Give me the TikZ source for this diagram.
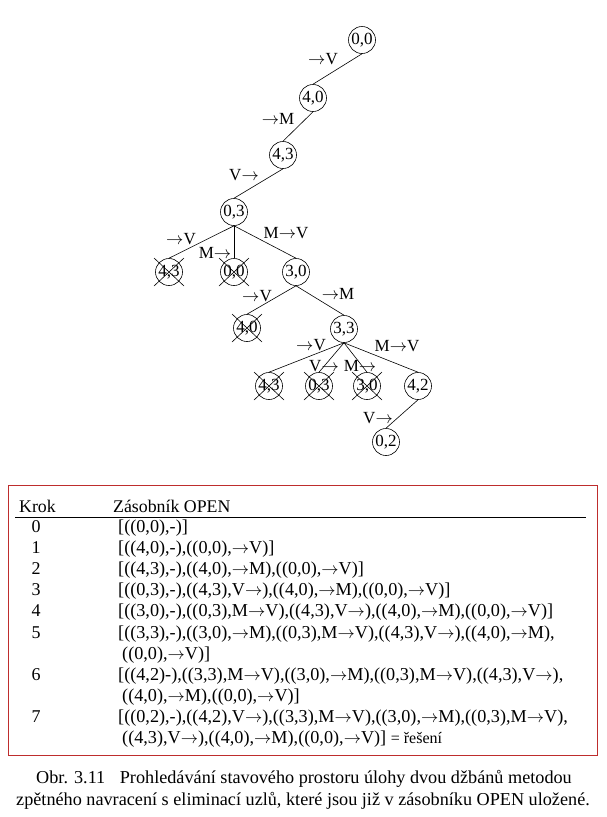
\documentclass[tikz,border=0pt]{standalone}
\usepackage{fontspec}
\setmainfont{Liberation Serif}
\definecolor{boxred}{RGB}{190,45,45}
\newcommand{\myarr}{$\rightarrow$}
\begin{document}
\begin{tikzpicture}[x=1pt,y=-1pt,
  st/.style={circle,draw,line width=0.6pt,minimum size=27pt,inner sep=0pt,font=\fontsize{17}{19}\selectfont},
  lab/.style={inner sep=0pt,font=\fontsize{17}{19}\selectfont},
  conn/.style={line width=0.6pt},
  crossln/.style={line width=0.6pt},
  hdr/.style={inner sep=0pt,anchor=base west,font=\fontsize{17.8}{20}\selectfont},
  txt/.style={inner sep=0pt,anchor=base west,font=\fontsize{18.2}{20}\selectfont},
  num/.style={inner sep=0pt,anchor=base,font=\fontsize{18}{20}\selectfont},
  captxt/.style={inner sep=0pt,anchor=base,font=\fontsize{18.2}{20}\selectfont}]
\useasboundingbox (0,0) rectangle (606,817);
% tree nodes
\node[st] (n00) at (362,40) {0,0};
\node[st] (n40) at (313,98) {4,0};
\node[st] (n43) at (283,155) {4,3};
\node[st] (n03) at (234,212) {0,3};
\node[st] (a43) at (169,272) {4,3};
\node[st] (a00) at (234,272) {0,0};
\node[st] (n30) at (296,272) {3,0};
\node[st] (b40) at (247,328) {4,0};
\node[st] (n33) at (344,329) {3,3};
\node[st] (c43) at (269,386) {4,3};
\node[st] (c03) at (319,386) {0,3};
\node[st] (c30) at (367,386) {3,0};
\node[st] (n42) at (418,386) {4,2};
\node[st] (n02) at (386,442) {0,2};
% edges
\draw[conn] (n00.south) -- (n40.north);
\draw[conn] (n40.south) -- (n43.north);
\draw[conn] (n43.south) -- (n03.north);
\draw[conn] (n03.south) -- (a43.north);
\draw[conn] (n03.south) -- (a00.north);
\draw[conn] (n03.south) -- (n30.north);
\draw[conn] (n30.south) -- (b40.north);
\draw[conn] (n30.south) -- (n33.north);
\draw[conn] (n33.south) -- (c43.north);
\draw[conn] (n33.south) -- (c03.north);
\draw[conn] (n33.south) -- (c30.north);
\draw[conn] (n33.south) -- (n42.north);
\draw[conn] (n42.south) -- (n02.north);
% crosses
\foreach \n in {a43,a00,b40,c43,c03,c30}{
  \draw[crossln] (\n.center) ++(-15,-14) -- ++(30,28);
  \draw[crossln] (\n.center) ++(15,-14) -- ++(-30,28);
}
% edge labels
\node[lab] (l1) at (323,59) {\myarr V};
\node[lab] (l2) at (278,119) {\myarr M};
\node[lab] (l3) at (244,175) {V\myarr};
\node[lab] (l4) at (181,239) {\myarr V};
\node[lab] (l5) at (215,253) {M\myarr};
\node[lab] (l6) at (286,233) {M\myarr V};
\node[lab] (l7) at (257,296) {\myarr V};
\node[lab] (l8) at (338,294) {\myarr M};
\node[lab] (l9) at (311,345) {\myarr V};
\node[lab] (l10) at (324,366) {V\myarr};
\node[lab] (l11) at (360,366) {M\myarr};
\node[lab] (l12) at (397,346) {M\myarr V};
\node[lab] (l13) at (378,418) {V\myarr};
% table box
\draw[boxred,line width=1pt] (8,485) rectangle (597,755);
\node[hdr] (hk) at (19,512) {Krok};
\node[hdr] (hz) at (113,512) {Zásobník OPEN};
\draw[line width=0.8pt] (15,517) coordinate (r1) -- (586,517) coordinate (r2);
\node[num] (k0) at (36,532) {0};
\node[txt] (t0) at (118,532) {[((0,0),-)]};
\node[num] (k1) at (36,553) {1};
\node[txt] (t1) at (118,553) {[((4,0),-),((0,0),\myarr V)]};
\node[num] (k2) at (36,574) {2};
\node[txt] (t2) at (118,574) {[((4,3),-),((4,0),\myarr M),((0,0),\myarr V)]};
\node[num] (k3) at (36,595) {3};
\node[txt] (t3) at (118,595) {[((0,3),-),((4,3),V\myarr),((4,0),\myarr M),((0,0),\myarr V)]};
\node[num] (k4) at (36,616) {4};
\node[txt] (t4) at (118,616) {[((3,0),-),((0,3),M\myarr V),((4,3),V\myarr),((4,0),\myarr M),((0,0),\myarr V)]};
\node[num] (k5) at (36,638) {5};
\node[txt] (t5) at (118,638) {[((3,3),-),((3,0),\myarr M),((0,3),M\myarr V),((4,3),V\myarr),((4,0),\myarr M),};
\node[txt] (t5b) at (122,659) {((0,0),\myarr V)]};
\node[num] (k6) at (36,680) {6};
\node[txt] (t6) at (118,680) {[((4,2)-),((3,3),M\myarr V),((3,0),\myarr M),((0,3),M\myarr V),((4,3),V\myarr),};
\node[txt] (t6b) at (122,701) {((4,0),\myarr M),((0,0),\myarr V)]};
\node[num] (k7) at (36,722) {7};
\node[txt] (t7) at (118,722) {[((0,2),-),((4,2),V\myarr),((3,3),M\myarr V),((3,0),\myarr M),((0,3),M\myarr V),};
\node[txt] (t7b) at (122,743) {((4,3),V\myarr),((4,0),\myarr M),((0,0),\myarr V)] {\fontsize{16}{18}\selectfont = řešení}};
% caption
\node[captxt] (c1) at (304,783) {Obr. 3.11\hspace{0.8em}Prohledávání stavového prostoru úlohy dvou džbánů metodou};
\node[captxt] (c2) at (303,805) {zpětného navracení s eliminací uzlů, které jsou již v zásobníku OPEN uložené.};
\end{tikzpicture}
\end{document}
